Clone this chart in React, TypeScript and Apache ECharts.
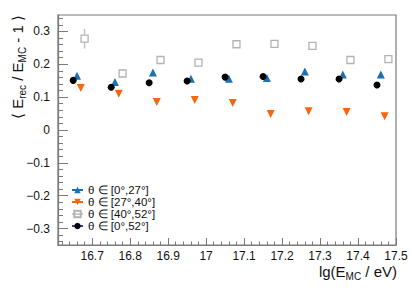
import React, { useEffect, useRef } from "react";
import * as echarts from "echarts";

// ---- data ----
const binCenters = [16.65, 16.75, 16.85, 16.95, 17.05, 17.15, 17.25, 17.35, 17.45];
const xTickLabels = [16.7, 16.8, 16.9, 17.0, 17.1, 17.2, 17.3, 17.4, 17.5];
const yTickLabels = [-0.3, -0.2, -0.1, 0, 0.1, 0.2, 0.3];

const seriesNames = ["θ ∈ [0°,27°]", "θ ∈ [27°,40°]", "θ ∈ [40°,52°]", "θ ∈ [0°,52°]"];
const blueVals = [0.165, 0.146, 0.175, 0.156, 0.156, 0.158, 0.178, 0.169, 0.169];
const orangeVals = [0.128, 0.11, 0.085, 0.091, 0.082, 0.049, 0.057, 0.055, 0.042];
const grayVals = [0.278, 0.172, 0.213, 0.205, 0.261, 0.262, 0.256, 0.213, 0.216];
const grayErrs = [0.03, 0.004, 0.004, 0.004, 0.004, 0.004, 0.004, 0.004, 0.004];
const blackVals = [0.151, 0.13, 0.144, 0.149, 0.161, 0.163, 0.155, 0.155, 0.137];
// horizontal shift of each series inside a bin (x units)
const seriesShift = [0.01, 0.02, 0.03, 0.0];

const FONT = "'Liberation Sans', Arial, Helvetica, sans-serif";
const AXIS_COLOR = "#7a7a7a";
const BLUE = "#1d6fb3";
const ORANGE = "#f9650f";
const GRAY = "#b3b3b3";
const BLACK = "#000000";
const NAVY = "#3d3d9c";

const fmt = (v: number) => String(+v.toFixed(2)).replace("-", "\u2212");

function minorTicks(lo: number, hi: number, step: number, majors: number[]) {
  const out: number[] = [];
  const n = Math.round((hi - lo) / step);
  for (let i = 0; i <= n; i++) {
    const v = +(lo + i * step).toFixed(4);
    if (!majors.some((m) => Math.abs(m - v) < 1e-6)) out.push(v);
  }
  return out;
}

export default function App() {
  const ref = useRef<HTMLDivElement>(null);
  useEffect(() => {
    if (!ref.current) return;
    const chart = echarts.init(ref.current, undefined, { renderer: "svg" });
    const xMin = 16.61, xMax = 17.5, yMin = -0.35, yMax = 0.35;
    const xMinor = minorTicks(16.62, 17.48, 0.02, xTickLabels);
    const yMinor = minorTicks(-0.34, 0.34, 0.02, yTickLabels);

    const pts = (vals: number[], k: number) =>
      vals.map((v, i) => [+(binCenters[i] + seriesShift[k]).toFixed(3), v]);

    const hiddenLine = { width: 0, opacity: 0 };
    const mk = (name: string, k: number, vals: number[], symbol: string, size: number, itemStyle: any, rot = 0) => ({
      type: "line",
      name,
      data: pts(vals, k),
      symbol,
      symbolSize: size,
      symbolRotate: rot,
      showSymbol: true,
      lineStyle: hiddenLine,
      itemStyle,
      z: 3,
      silent: true,
    });

    const option: any = {
      animation: false,
      grid: {
        left: 58,
        top: 15,
        width: 338,
        height: 230,
        show: true,
        borderColor: AXIS_COLOR,
        borderWidth: 1.2,
        backgroundColor: "transparent",
      },
      xAxis: [
        {
          type: "value",
          min: xMin,
          max: xMax,
          position: "bottom",
          axisLine: { show: true, onZero: false, lineStyle: { color: AXIS_COLOR, width: 1.2 } },
          axisTick: { show: true, inside: true, length: 7, customValues: xTickLabels, lineStyle: { color: AXIS_COLOR } },
          axisLabel: { customValues: xTickLabels, formatter: fmt, fontSize: 12, color: "#111", margin: 5, fontFamily: FONT },
          splitLine: { show: false },
        },
        {
          type: "value",
          min: xMin,
          max: xMax,
          position: "bottom",
          axisLine: { show: false, onZero: false },
          axisTick: { show: true, inside: true, length: 3.5, customValues: xMinor, lineStyle: { color: AXIS_COLOR } },
          axisLabel: { show: false },
          splitLine: { show: false },
        },
      ],
      yAxis: [
        {
          type: "value",
          min: yMin,
          max: yMax,
          position: "left",
          axisLine: { show: true, onZero: false, lineStyle: { color: AXIS_COLOR, width: 1.2 } },
          axisTick: { show: true, inside: true, length: 10, customValues: yTickLabels, lineStyle: { color: AXIS_COLOR } },
          axisLabel: { customValues: yTickLabels, formatter: fmt, fontSize: 12, color: "#111", margin: 8, fontFamily: FONT },
          splitLine: { show: false },
        },
        {
          type: "value",
          min: yMin,
          max: yMax,
          position: "left",
          axisLine: { show: false, onZero: false },
          axisTick: { show: true, inside: true, length: 5, customValues: yMinor, lineStyle: { color: AXIS_COLOR } },
          axisLabel: { show: false },
          splitLine: { show: false },
        },
      ],
      legend: {
        orient: "vertical",
        left: 71,
        top: 184,
        itemWidth: 11,
        itemHeight: 8,
        itemGap: 0,
        padding: 0,
        textStyle: { fontSize: 11.5, lineHeight: 10, color: "#111", fontFamily: FONT },
        data: [
          { name: seriesNames[0], lineStyle: { color: BLUE, width: 2, opacity: 1 } },
          { name: seriesNames[1], lineStyle: { color: ORANGE, width: 2, opacity: 1 } },
          { name: seriesNames[2], lineStyle: { color: "#cfcfcf", width: 2, opacity: 1 } },
          { name: seriesNames[3], lineStyle: { color: NAVY, width: 2, opacity: 1 } },
        ],
      },
      series: [
        {
          type: "custom",
          name: "err",
          silent: true,
          z: 2,
          data: grayVals.map((v, i) => [+(binCenters[i] + seriesShift[2]).toFixed(3), v, grayErrs[i]]),
          renderItem: (_p: any, api: any) => {
            const x = api.value(0), y = api.value(1), e = api.value(2);
            const c = api.coord([x, y]);
            const top = api.coord([x, y + e]);
            const bot = api.coord([x, y - e]);
            const half = 4;
            const st = { stroke: "#c4c4c4", lineWidth: 1.5 };
            const children: any[] = [];
            if (c[1] - top[1] > half) children.push({ type: "line", shape: { x1: c[0], y1: top[1], x2: c[0], y2: c[1] - half }, style: st });
            if (bot[1] - c[1] > half) children.push({ type: "line", shape: { x1: c[0], y1: c[1] + half, x2: c[0], y2: bot[1] }, style: st });
            return { type: "group", children };
          },
        },
        mk(seriesNames[0], 0, blueVals, "triangle", 8, { color: BLUE }),
        mk(seriesNames[1], 1, orangeVals, "triangle", 8, { color: ORANGE }, 180),
        mk(seriesNames[2], 2, grayVals, "rect", 7, { color: "transparent", borderColor: GRAY, borderWidth: 1.3 }),
        mk(seriesNames[3], 3, blackVals, "circle", 7, { color: BLACK }),
      ],
      graphic: [
        {
          type: "text",
          x: 17,
          y: 15,
          rotation: Math.PI / 2,
          style: {
            text: "{m|\u27E8 E}{s|rec}{m| / E}{s|MC}{m| - 1 \u27E9}",
            align: "right",
            verticalAlign: "middle",
            fill: "#111",
            font: `15px ${FONT}`,
            rich: {
              m: { fontSize: 15, lineHeight: 20, fontFamily: FONT, fill: "#111", verticalAlign: "middle" },
              s: { fontSize: 10, lineHeight: 10, fontFamily: FONT, fill: "#111", verticalAlign: "bottom" },
            },
          },
        },
        {
          type: "text",
          x: 397,
          y: 271,
          style: {
            text: "{m|lg(E}{s|MC}{m| / eV)}",
            align: "right",
            verticalAlign: "middle",
            fill: "#111",
            font: `15px ${FONT}`,
            rich: {
              m: { fontSize: 15, lineHeight: 20, fontFamily: FONT, fill: "#111", verticalAlign: "middle" },
              s: { fontSize: 10, lineHeight: 10, fontFamily: FONT, fill: "#111", verticalAlign: "bottom" },
            },
          },
        },
      ],
    };
    chart.setOption(option);
    return () => chart.dispose();
  }, []);
  return <div ref={ref} style={{ position: "fixed", left: 0, top: 0, width: 413, height: 292, background: "#fff" }} />;
}
